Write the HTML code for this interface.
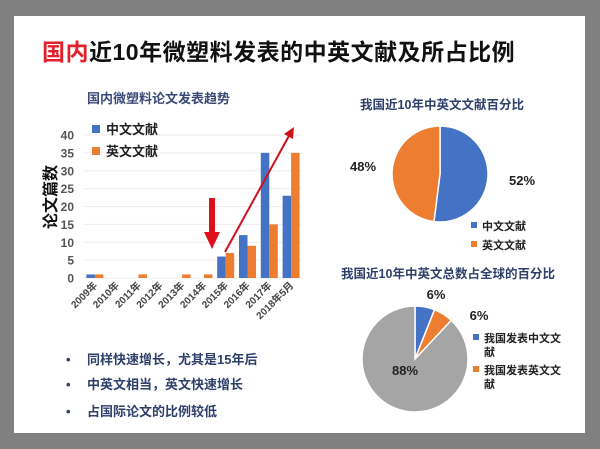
<!DOCTYPE html>
<html><head><meta charset="utf-8">
<style>
html,body{margin:0;padding:0;background:#808080;}
body{width:600px;height:449px;position:relative;overflow:hidden;font-family:"Liberation Sans","Noto Sans CJK SC",sans-serif;}
#slide{position:absolute;left:14px;top:16px;width:571px;height:417px;background:#fff;}
svg text{font-family:"Liberation Sans","Noto Sans CJK SC",sans-serif;}
</style></head>
<body>
<div id="slide"></div>
<svg width="600" height="449" style="position:absolute;left:0;top:0" id="svg">
  <text x="42" y="60" font-size="23" letter-spacing="0.5" font-weight="bold"><tspan fill="#e0202a">国内</tspan><tspan fill="#111">近10年微塑料发表的中英文献及所占比例</tspan></text>
  <text x="87" y="103" font-size="13" font-weight="bold" fill="#3a4a78">国内微塑料论文发表趋势</text>
  <text transform="translate(56,197) rotate(-90)" text-anchor="middle" font-size="16" font-weight="bold" fill="#111">论文篇数</text>
  <g id="bars"></g>
  <rect x="92" y="125" width="8" height="8" fill="#4472c4"/>
  <text x="106" y="134" font-size="13" font-weight="bold" fill="#222">中文文献</text>
  <rect x="92" y="147" width="8" height="8" fill="#ed7d31"/>
  <text x="106" y="156" font-size="13" font-weight="bold" fill="#222">英文文献</text>
  <g>
    <rect x="209" y="198" width="6" height="36" fill="#e0101a"/>
    <polygon points="204,232 220,232 212,249" fill="#e0101a"/>
  </g>
  <g>
    <line x1="225" y1="252" x2="290" y2="134" stroke="#d01020" stroke-width="2"/>
    <polygon points="294,127 284,134 293,139" fill="#d01020"/>
  </g>
  <text x="442" y="109" text-anchor="middle" font-size="12.5" font-weight="bold" fill="#2f3f6b">我国近10年中英文文献百分比</text>
  <g id="pie1"></g>
  <rect x="471" y="222" width="6" height="6" fill="#4472c4"/>
  <text x="482" y="230" font-size="11" font-weight="bold" fill="#222">中文文献</text>
  <rect x="471" y="241" width="6" height="6" fill="#ed7d31"/>
  <text x="482" y="249" font-size="11" font-weight="bold" fill="#222">英文文献</text>
  <text x="448" y="278" text-anchor="middle" font-size="12.5" font-weight="bold" fill="#2f3f6b">我国近10年中英文总数占全球的百分比</text>
  <g id="pie2"></g>
  <rect x="473" y="334" width="6" height="6" fill="#4472c4"/>
  <text x="484" y="342" font-size="11" font-weight="bold" fill="#222">我国发表中文文<tspan x="484" dy="14">献</tspan></text>
  <rect x="473" y="366" width="6" height="6" fill="#ed7d31"/>
  <text x="484" y="374" font-size="11" font-weight="bold" fill="#222">我国发表英文文<tspan x="484" dy="14">献</tspan></text>
  <g font-size="13" font-weight="bold" fill="#2f3f6b">
    <text x="66" y="364">•<tspan x="87">同样快速增长，尤其是15年后</tspan></text>
    <text x="66" y="389">•<tspan x="87">中英文相当，英文快速增长</tspan></text>
    <text x="66" y="416">•<tspan x="87">占国际论文的比例较低</tspan></text>
  </g>
</svg>
<script>
const categories=["2009年","2010年","2011年","2012年","2013年","2014年","2015年","2016年","2017年","2018年5月"];
const chineseValues=[1,0,0,0,0,0,6,12,35,23];
const englishValues=[1,0,1,0,1,1,7,9,15,35];
const yTicks=[0,5,10,15,20,25,30,35,40];
const pie1Values=[52,48];
const pie1Labels=["52%","48%"];
const pie2Values=[6,6,88];
const pie2Labels=["6%","6%","88%"];
const NS="http://www.w3.org/2000/svg";
function mk(tag,attrs,parent){const e=document.createElementNS(NS,tag);for(const k in attrs)e.setAttribute(k,attrs[k]);parent.appendChild(e);return e;}
const bars=document.getElementById('bars');
const x0=84,x1=302,y0=278,yTop=135,vMax=40;
const yScale=v=>y0-(v/vMax)*(y0-yTop);
const band=(x1-x0)/categories.length;
const xCenter=i=>x0+band*(i+0.5);
yTicks.forEach(t=>{
  const ln=mk('line',{x1:x0,x2:x1,y1:yScale(t),y2:yScale(t),stroke:'#eeeeee','stroke-width':1},bars);
  
  
  const tx=mk('text',{x:74,y:yScale(t)+4.5,'text-anchor':'end','font-size':12,'font-weight':'bold',fill:'#555'},bars);
  tx.textContent=t;
  
  
});
const bw=8.5;
categories.forEach((c,i)=>{
  const cx=xCenter(i);
  const b1=mk('rect',{x:cx-bw,y:yScale(chineseValues[i]),width:bw,height:y0-yScale(chineseValues[i]),fill:'#4472c4'},bars);
  
  
  const b2=mk('rect',{x:cx,y:yScale(englishValues[i]),width:bw,height:y0-yScale(englishValues[i]),fill:'#ed7d31'},bars);
  
  
  const tl=mk('text',{transform:`translate(${cx+3},${y0+8}) rotate(-45)`,'text-anchor':'end','font-size':10,'font-weight':'bold',fill:'#444'},bars);
  tl.textContent=c;
  
  
});
function pie(g,cx,cy,r,vals,colors,labels,labelPos,name){
  const tot=vals.reduce((a,b)=>a+b,0);let a=-Math.PI/2;
  vals.forEach((v,i)=>{
    const a2=a+v/tot*2*Math.PI;
    const large=(a2-a)>Math.PI?1:0;
    const p=mk('path',{d:`M${cx},${cy} L${cx+r*Math.cos(a)},${cy+r*Math.sin(a)} A${r},${r} 0 ${large} 1 ${cx+r*Math.cos(a2)},${cy+r*Math.sin(a2)} Z`,fill:colors[i],stroke:'#fff','stroke-width':1.5},g);
    
    
    const t=mk('text',{x:labelPos[i][0],y:labelPos[i][1],'text-anchor':'middle','font-size':13,'font-weight':'bold',fill:'#222'},g);
    t.textContent=labels[i];
    
    
    a=a2;
  });
}
pie(document.getElementById('pie1'),440,174,48,pie1Values,['#4472c4','#ed7d31'],pie1Labels,[[522,185],[363,171]],'pie1');
pie(document.getElementById('pie2'),415,359,53,pie2Values,['#4472c4','#ed7d31','#a5a5a5'],pie2Labels,[[436,299],[479,320],[405,375]],'pie2');
</script>
</body></html>
